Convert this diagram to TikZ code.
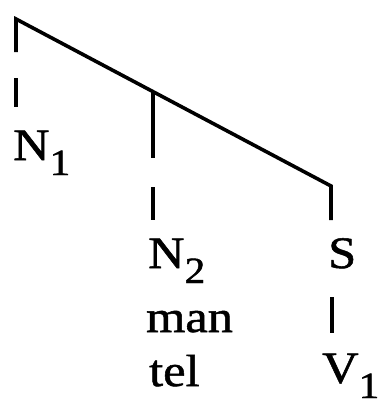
\documentclass[tikz,border=0pt]{standalone}
\usepackage{fontspec}
\setmainfont[FakeBold=1.2,FakeStretch=1.12]{Liberation Serif}
\newcommand{\mysub}[1]{\raisebox{-15pt}{\fontsize{37}{37}\selectfont #1}}
\begin{document}
\begin{tikzpicture}[x=1pt,y=-1pt,
  lbl/.style={inner sep=0pt,anchor=base west,font=\fontsize{45}{54}\selectfont},
  branch/.style={line width=3.6pt,line cap=butt,line join=miter}]
\useasboundingbox (0,0) rectangle (383,407);
% tree coordinates
\coordinate (top) at (16,19);
\coordinate (lA) at (16,52);
\coordinate (lB) at (16,78);
\coordinate (lC) at (16,107);
\coordinate (mTop) at (153,92);
\coordinate (mA) at (153,158);
\coordinate (mB) at (153,187);
\coordinate (mC) at (153,220);
\coordinate (rTop) at (331,186);
\coordinate (rEnd) at (331,220);
\coordinate (sA) at (332,297);
\coordinate (sB) at (332,333);
% lines
\draw[branch] (lA) -- (top) -- (rTop) -- (rEnd);
\draw[branch] (lB) -- (lC);
\draw[branch] (mTop) -- (mA);
\draw[branch] (mB) -- (mC);
\draw[branch] (sA) -- (sB);
% labels
\node[lbl] (n1) at (13,160) {N\mysub{1}};
\node[lbl] (n2) at (148,268) {N\mysub{2}};
\node[lbl] (man) at (146,332) {man};
\node[lbl] (tel) at (149,386) {tel};
\node[lbl] (s) at (328,268) {S};
\node[lbl] (v1) at (322,383) {V\mysub{1}};
\end{tikzpicture}
\end{document}
